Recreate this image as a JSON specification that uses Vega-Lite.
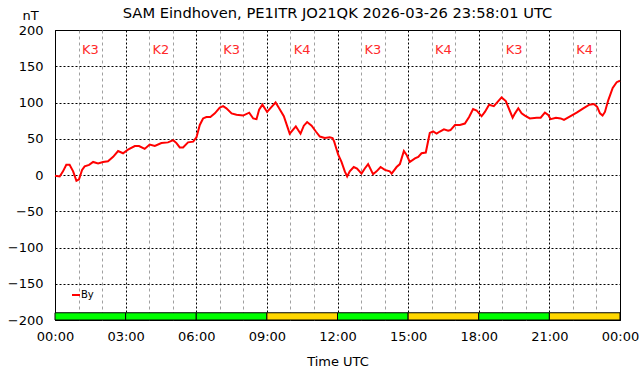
{
  "$schema": "https://vega.github.io/schema/vega-lite/v6.json",
  "width": 565,
  "height": 290,
  "autosize": {"type": "none"},
  "padding": {"left": 55, "top": 30, "right": 22, "bottom": 56},
  "background": "white",
  "title": {
    "text": "SAM Eindhoven, PE1ITR JO21QK 2026-03-26 23:58:01 UTC",
    "font": "DejaVu Sans",
    "fontSize": 14.7,
    "fontWeight": "normal",
    "color": "black",
    "anchor": "middle",
    "frame": "group",
    "offset": 6,
    "dy": 18
  },
  "config": {
    "font": "DejaVu Sans",
    "view": {"stroke": "black", "strokeWidth": 1},
    "axis": {
      "labelFont": "DejaVu Sans",
      "titleFont": "DejaVu Sans",
      "labelFontSize": 13,
      "titleFontSize": 13,
      "titleFontWeight": "normal",
      "labelColor": "black",
      "titleColor": "black",
      "domain": false,
      "ticks": false
    }
  },
  "datasets": {
    "by": [
      {"h": 0.0, "v": -1}, {"h": 0.2, "v": -2}, {"h": 0.34, "v": 5}, {"h": 0.48, "v": 14},
      {"h": 0.62, "v": 14}, {"h": 0.77, "v": 5}, {"h": 0.91, "v": -8}, {"h": 1.02, "v": -6},
      {"h": 1.15, "v": 7}, {"h": 1.26, "v": 12}, {"h": 1.45, "v": 14}, {"h": 1.62, "v": 18},
      {"h": 1.83, "v": 16}, {"h": 2.04, "v": 18}, {"h": 2.25, "v": 19}, {"h": 2.47, "v": 25},
      {"h": 2.68, "v": 33}, {"h": 2.89, "v": 30}, {"h": 3.1, "v": 35}, {"h": 3.39, "v": 40},
      {"h": 3.57, "v": 40}, {"h": 3.81, "v": 36}, {"h": 4.02, "v": 42}, {"h": 4.24, "v": 40},
      {"h": 4.52, "v": 44}, {"h": 4.8, "v": 45}, {"h": 5.02, "v": 48}, {"h": 5.16, "v": 44},
      {"h": 5.3, "v": 38}, {"h": 5.44, "v": 38}, {"h": 5.65, "v": 45}, {"h": 5.87, "v": 46},
      {"h": 6.01, "v": 52}, {"h": 6.15, "v": 69}, {"h": 6.29, "v": 78}, {"h": 6.43, "v": 80},
      {"h": 6.6, "v": 80}, {"h": 6.79, "v": 85}, {"h": 7.0, "v": 93}, {"h": 7.14, "v": 95},
      {"h": 7.28, "v": 92}, {"h": 7.5, "v": 85}, {"h": 7.71, "v": 83}, {"h": 7.99, "v": 82},
      {"h": 8.25, "v": 86}, {"h": 8.42, "v": 78}, {"h": 8.56, "v": 77}, {"h": 8.67, "v": 90},
      {"h": 8.81, "v": 97}, {"h": 9.01, "v": 87}, {"h": 9.2, "v": 94}, {"h": 9.37, "v": 100},
      {"h": 9.52, "v": 92}, {"h": 9.72, "v": 81}, {"h": 9.97, "v": 57}, {"h": 10.23, "v": 67},
      {"h": 10.43, "v": 57}, {"h": 10.57, "v": 68}, {"h": 10.71, "v": 73}, {"h": 10.9, "v": 68},
      {"h": 11.08, "v": 60}, {"h": 11.25, "v": 53}, {"h": 11.46, "v": 51}, {"h": 11.67, "v": 52},
      {"h": 11.79, "v": 51}, {"h": 11.86, "v": 46}, {"h": 12.03, "v": 28}, {"h": 12.17, "v": 18},
      {"h": 12.31, "v": 5}, {"h": 12.41, "v": -2}, {"h": 12.52, "v": 5}, {"h": 12.69, "v": 11},
      {"h": 12.83, "v": 9}, {"h": 13.02, "v": 2}, {"h": 13.16, "v": 9}, {"h": 13.3, "v": 15},
      {"h": 13.51, "v": 1}, {"h": 13.66, "v": 5}, {"h": 13.83, "v": 11}, {"h": 14.01, "v": 7},
      {"h": 14.22, "v": 5}, {"h": 14.3, "v": 2}, {"h": 14.51, "v": 11}, {"h": 14.65, "v": 15},
      {"h": 14.82, "v": 33}, {"h": 14.93, "v": 28}, {"h": 15.07, "v": 18}, {"h": 15.29, "v": 23},
      {"h": 15.43, "v": 25}, {"h": 15.57, "v": 30}, {"h": 15.75, "v": 31}, {"h": 15.92, "v": 58},
      {"h": 16.06, "v": 60}, {"h": 16.21, "v": 57}, {"h": 16.35, "v": 60}, {"h": 16.52, "v": 63},
      {"h": 16.7, "v": 61}, {"h": 16.8, "v": 62}, {"h": 16.99, "v": 69}, {"h": 17.2, "v": 69},
      {"h": 17.41, "v": 71}, {"h": 17.59, "v": 80}, {"h": 17.76, "v": 91}, {"h": 17.91, "v": 89},
      {"h": 18.12, "v": 81}, {"h": 18.26, "v": 87}, {"h": 18.44, "v": 97}, {"h": 18.64, "v": 95},
      {"h": 18.83, "v": 102}, {"h": 18.97, "v": 107}, {"h": 19.15, "v": 102}, {"h": 19.3, "v": 90},
      {"h": 19.44, "v": 79}, {"h": 19.54, "v": 85}, {"h": 19.68, "v": 92}, {"h": 19.82, "v": 85},
      {"h": 19.96, "v": 82}, {"h": 20.17, "v": 78}, {"h": 20.46, "v": 79}, {"h": 20.63, "v": 79},
      {"h": 20.81, "v": 86}, {"h": 20.95, "v": 83}, {"h": 21.05, "v": 77}, {"h": 21.28, "v": 79},
      {"h": 21.48, "v": 78}, {"h": 21.62, "v": 76}, {"h": 21.88, "v": 81}, {"h": 22.16, "v": 86},
      {"h": 22.44, "v": 92}, {"h": 22.7, "v": 97}, {"h": 22.89, "v": 98}, {"h": 23.03, "v": 94},
      {"h": 23.15, "v": 85}, {"h": 23.26, "v": 82}, {"h": 23.36, "v": 87}, {"h": 23.5, "v": 103},
      {"h": 23.69, "v": 120}, {"h": 23.86, "v": 128}, {"h": 24.0, "v": 130}
    ],
    "kindex": [
      {"start": 0, "end": 3, "k": 3, "label": "K3"},
      {"start": 3, "end": 6, "k": 2, "label": "K2"},
      {"start": 6, "end": 9, "k": 3, "label": "K3"},
      {"start": 9, "end": 12, "k": 4, "label": "K4"},
      {"start": 12, "end": 15, "k": 3, "label": "K3"},
      {"start": 15, "end": 18, "k": 4, "label": "K4"},
      {"start": 18, "end": 21, "k": 3, "label": "K3"},
      {"start": 21, "end": 24, "k": 4, "label": "K4"}
    ]
  },
  "layer": [
    {
      "data": {"name": "kindex"},
      "mark": {"type": "rect", "stroke": "black", "strokeWidth": 1},
      "encoding": {
        "x": {
          "field": "start", "type": "quantitative",
          "scale": {"domain": [0, 24], "nice": false, "zero": false},
          "axis": {
            "title": "Time UTC",
            "values": [0,1,2,3,4,5,6,7,8,9,10,11,12,13,14,15,16,17,18,19,20,21,22,23,24],
            "labelExpr": "datum.value % 3 == 0 ? ((datum.value % 24) < 10 ? '0' : '') + (datum.value % 24) + ':00' : ''",
            "labelOverlap": false,
            "labelFlush": false,
            "labelPadding": 10,
            "titlePadding": 12,
            "grid": true,
            "gridColor": {"condition": {"test": "datum.value % 3 == 0", "value": "black"}, "value": "#a0a0a0"},
            "gridDash": {"condition": {"test": "datum.value % 3 == 0", "value": [2, 2]}, "value": [3, 3]},
            "gridWidth": 1
          }
        },
        "x2": {"field": "end"},
        "y": {
          "datum": -200, "type": "quantitative",
          "scale": {"domain": [-200, 200], "nice": false, "zero": false},
          "axis": {
            "title": "nT",
            "titleAngle": 0,
            "titleX": -25,
            "titleY": -15,
            "titleAlign": "center",
            "titleBaseline": "middle",
            "values": [-200, -150, -100, -50, 0, 50, 100, 150, 200],
            "labelOverlap": false,
            "labelPadding": 12,
            "grid": true,
            "gridColor": "black",
            "gridDash": [2, 2],
            "gridWidth": 1
          }
        },
        "y2": {"datum": -190},
        "fill": {"condition": {"test": "datum.k >= 4", "value": "#ffd700"}, "value": "#00ff00"}
      }
    },
    {
      "data": {"name": "kindex"},
      "transform": [{"calculate": "(datum.start + datum.end) / 2", "as": "mid"}],
      "mark": {"type": "text", "color": "#ff2a2a", "fontSize": 13, "font": "DejaVu Sans", "baseline": "middle", "align": "center"},
      "encoding": {
        "x": {
          "field": "mid", "type": "quantitative",
          "axis": {
            "title": "Time UTC",
            "values": [0,1,2,3,4,5,6,7,8,9,10,11,12,13,14,15,16,17,18,19,20,21,22,23,24],
            "labelExpr": "datum.value % 3 == 0 ? ((datum.value % 24) < 10 ? '0' : '') + (datum.value % 24) + ':00' : ''",
            "labelOverlap": false,
            "labelFlush": false,
            "labelPadding": 10,
            "titlePadding": 12,
            "grid": true,
            "gridColor": {"condition": {"test": "datum.value % 3 == 0", "value": "black"}, "value": "#a0a0a0"},
            "gridDash": {"condition": {"test": "datum.value % 3 == 0", "value": [2, 2]}, "value": [3, 3]},
            "gridWidth": 1
          }
        },
        "y": {
          "datum": 172, "type": "quantitative",
          "axis": {
            "title": "nT",
            "titleAngle": 0,
            "titleX": -25,
            "titleY": -15,
            "titleAlign": "center",
            "titleBaseline": "middle",
            "values": [-200, -150, -100, -50, 0, 50, 100, 150, 200],
            "labelOverlap": false,
            "labelPadding": 12,
            "grid": true,
            "gridColor": "black",
            "gridDash": [2, 2],
            "gridWidth": 1
          }
        },
        "text": {"field": "label"}
      }
    },
    {
      "data": {"name": "by"},
      "mark": {"type": "line", "strokeWidth": 2, "interpolate": "linear"},
      "encoding": {
        "x": {
          "field": "h", "type": "quantitative",
          "axis": {
            "title": "Time UTC",
            "values": [0,1,2,3,4,5,6,7,8,9,10,11,12,13,14,15,16,17,18,19,20,21,22,23,24],
            "labelExpr": "datum.value % 3 == 0 ? ((datum.value % 24) < 10 ? '0' : '') + (datum.value % 24) + ':00' : ''",
            "labelOverlap": false,
            "labelFlush": false,
            "labelPadding": 10,
            "titlePadding": 12,
            "grid": true,
            "gridColor": {"condition": {"test": "datum.value % 3 == 0", "value": "black"}, "value": "#a0a0a0"},
            "gridDash": {"condition": {"test": "datum.value % 3 == 0", "value": [2, 2]}, "value": [3, 3]},
            "gridWidth": 1
          }
        },
        "y": {
          "field": "v", "type": "quantitative",
          "axis": {
            "title": "nT",
            "titleAngle": 0,
            "titleX": -25,
            "titleY": -15,
            "titleAlign": "center",
            "titleBaseline": "middle",
            "values": [-200, -150, -100, -50, 0, 50, 100, 150, 200],
            "labelOverlap": false,
            "labelPadding": 12,
            "grid": true,
            "gridColor": "black",
            "gridDash": [2, 2],
            "gridWidth": 1
          }
        },
        "color": {
          "datum": "By",
          "type": "nominal",
          "scale": {"domain": ["By"], "range": ["#ff0000"]},
          "legend": {
            "title": null,
            "orient": "none",
            "legendX": 16,
            "legendY": 260,
            "symbolType": "stroke",
            "symbolStrokeWidth": 2,
            "symbolSize": 64,
            "labelFontSize": 10,
            "labelFont": "DejaVu Sans",
            "labelColor": "black",
            "labelOffset": 0,
            "padding": 0
          }
        }
      }
    }
  ]
}
